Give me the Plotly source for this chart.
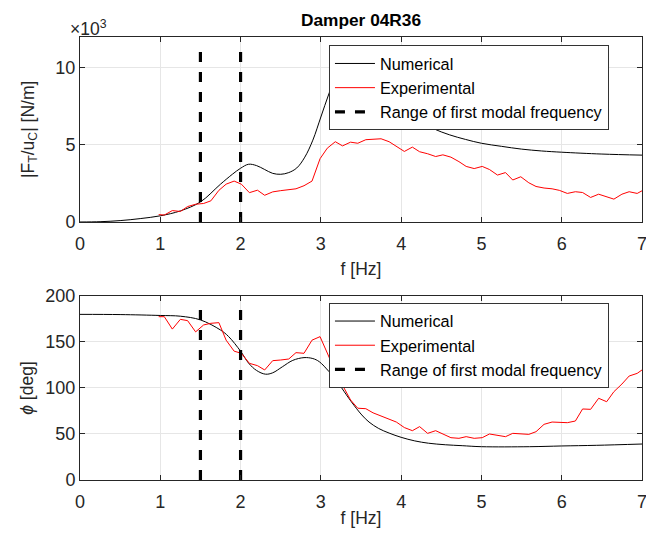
import plotly.graph_objects as go
from plotly.subplots import make_subplots

# numerical model, frequency grid [Hz]
f_num_mag = [0, 0.25, 0.5, 0.75, 1.0, 1.25, 1.5, 1.75, 1.9, 2.0, 2.1, 2.2, 2.3, 2.4, 2.5,
             2.6, 2.7, 2.8, 2.9, 3.0, 3.1, 3.2, 3.3, 3.4, 3.5, 3.6, 3.7, 3.8, 4.0, 4.2,
             4.4, 4.6, 4.8, 5.0, 5.25, 5.5, 5.75, 6.0, 6.5, 7.0]
mag_num = [0, 20, 90, 220, 400, 720, 1300, 2450, 3100, 3480, 3740, 3650, 3400, 3150, 3090,
           3200, 3500, 4200, 5300, 6800, 8300, 9600, 10400, 10500, 10000, 9300, 8600, 8000, 7200, 6600,
           6050, 5650, 5350, 5100, 4900, 4720, 4600, 4520, 4400, 4330]

f_num_phase = [0, 0.5, 1.0, 1.25, 1.5, 1.75, 1.85, 2.0, 2.1, 2.2, 2.31, 2.4, 2.52, 2.65,
               2.79, 2.9, 2.98, 3.1, 3.19, 3.26, 3.38, 3.51, 3.6, 3.72, 3.85, 4.0, 4.17,
               4.34, 4.55, 4.76, 5.0, 5.6, 6.0, 6.43, 7.0]
phase_num = [180, 179.8, 178.8, 178, 174, 163, 156, 140, 127, 119, 115, 116.5, 123, 130,
             133, 132, 128.6, 118, 109, 100, 85, 70.7, 63, 56, 51, 46.4, 42.5,
             40, 38.3, 37.3, 36.2, 36.2, 37, 37.7, 39.1]

# experimental measurements
f_exp = [0.98, 1.05, 1.15, 1.25, 1.34, 1.44, 1.54, 1.63, 1.73, 1.82, 1.92, 2.01, 2.11, 2.21,
         2.3, 2.4, 2.5, 2.6, 2.69, 2.79, 2.89, 2.99, 3.08, 3.18, 3.27, 3.37, 3.46, 3.56,
         3.65, 3.75, 3.85, 3.94, 4.04, 4.14, 4.23, 4.33, 4.43, 4.52, 4.62, 4.72, 4.81,
         4.91, 5.01, 5.1, 5.2, 5.3, 5.39, 5.49, 5.59, 5.68, 5.78, 5.88, 5.97, 6.07, 6.17,
         6.26, 6.36, 6.46, 6.56, 6.65, 6.75, 6.84, 6.94, 7.0]
mag_exp = [480, 450, 740, 680, 1000, 1150, 1200, 1370, 2050, 2450, 2650, 2450, 1900, 2060,
           1730, 1950, 2030, 2070, 2150, 2350, 2650, 4100, 4780, 5200, 4930, 5170, 5100, 5330,
           5370, 5390, 5200, 4880, 4570, 4850, 4550, 4420, 4240, 4350, 4200, 3910, 3600,
           3460, 3600, 3400, 3040, 3200, 2720, 2930, 2540, 2300, 2200, 2150, 2050, 1850, 1960,
           1910, 1590, 1800, 1630, 1480, 1800, 1960, 1850, 2020]
phase_exp = [177.5, 177.5, 164, 174.6, 173.2, 161, 168.5, 170.3, 171, 152, 140, 137.7, 126.8, 124.3,
             119.6, 129.7, 130.4, 131.5, 138.4, 137.7, 152, 155.8, 138, 118, 103, 87, 78, 77.5,
             73, 69.6, 66.5, 63, 57, 53.6, 58, 50.7, 53.6, 50, 46, 45.3, 47.1,
             45.3, 46, 50, 48.6, 47.1, 50.7, 50.4, 49.6, 52.5, 60.5, 63, 63, 62.3, 64.1,
             77.2, 76.8, 88.8, 85.1, 96, 104.3, 113, 115.9, 119.6]

# first modal frequency range and drawn height of the marker lines
modal_range = [1.5, 2.0]
modal_top = [11300, 190]

TXT = "#262626"
FONT = "Arial, Liberation Sans, sans-serif"

fig = make_subplots(rows=2, cols=1)

for row, (fn, yn, ye) in enumerate([(f_num_mag, mag_num, mag_exp),
                                     (f_num_phase, phase_num, phase_exp)], start=1):
    leg = "legend" if row == 1 else "legend2"
    fig.add_trace(go.Scatter(x=fn, y=yn, mode="lines", name="Numerical",
                             line=dict(color="black", width=1, shape="spline"),
                             legend=leg), row=row, col=1)
    fig.add_trace(go.Scatter(x=f_exp, y=ye, mode="lines", name="Experimental",
                             line=dict(color="#ff0000", width=1),
                             legend=leg), row=row, col=1)
    for i, fm in enumerate(modal_range):
        fig.add_trace(go.Scatter(x=[fm, fm], y=[0, modal_top[row - 1]], mode="lines",
                                 name="Range of first modal frequency",
                                 line=dict(color="black", width=3.2, dash="10px,10px"),
                                 showlegend=(i == 0), legend=leg), row=row, col=1)

axis_style = dict(showline=True, linecolor=TXT, linewidth=1, mirror="ticks",
                  ticks="inside", ticklen=5, tickcolor=TXT, showgrid=True,
                  gridcolor="#e6e6e6", zeroline=False, automargin=False,
                  ticklabeloverflow="allow",
                  tickfont=dict(size=18, color=TXT, family=FONT))
title_font = dict(size=17.5, color=TXT, family=FONT)

fig.update_xaxes(range=[0, 7], dtick=1, domain=[0, 1], ticklabelstandoff=5, **axis_style)
fig.update_yaxes(**axis_style)
fig.update_layout(
    xaxis=dict(title=dict(text="f [Hz]", standoff=10, font=title_font)),
    xaxis2=dict(title=dict(text="f [Hz]", standoff=1, font=title_font)),
    yaxis=dict(domain=[0.5889, 0.9320], range=[0, 12000],
               tickvals=[0, 5000, 10000], ticktext=["0", "5", "10"],
               title=dict(text="|F<sub>T</sub>/u<sub>C</sub>| [N/m]", standoff=16,
                          font=title_font)),
    yaxis2=dict(domain=[0.1111, 0.4519], range=[0, 200], dtick=50,
                title=dict(text="<i>ϕ</i> [deg]", standoff=7, font=title_font)),
)

legend_style = dict(bgcolor="white", bordercolor="#333333", borderwidth=1,
                    font=dict(size=16.3, color="black", family=FONT),
                    xanchor="left", yanchor="top", tracegroupgap=0,
                    itemwidth=40)
fig.update_layout(
    legend=dict(x=0.443, y=0.916, **legend_style),
    legend2=dict(x=0.443, y=0.439, **legend_style),
)

fig.add_annotation(text="<b>Damper 04R36</b>", xref="paper", yref="paper",
                   x=0.5, y=0.963, xanchor="center", yanchor="middle", showarrow=False,
                   font=dict(size=17.3, color="black", family=FONT))
fig.add_annotation(text="×10<sup>3</sup>", xref="paper", yref="paper",
                   x=-0.021, y=0.924, xanchor="left", yanchor="bottom", showarrow=False,
                   font=dict(size=17.5, color=TXT, family=FONT))

fig.update_layout(width=646, height=540, margin=dict(l=80, r=4, t=0, b=0),
                  plot_bgcolor="white", paper_bgcolor="white", showlegend=True)

# drop the default page margin so the figure sits exactly in the window
fig.write_html("out.html", config={"displayModeBar": False},
               post_script="document.body.style.margin='0';"
                           "document.body.style.overflow='hidden';")
